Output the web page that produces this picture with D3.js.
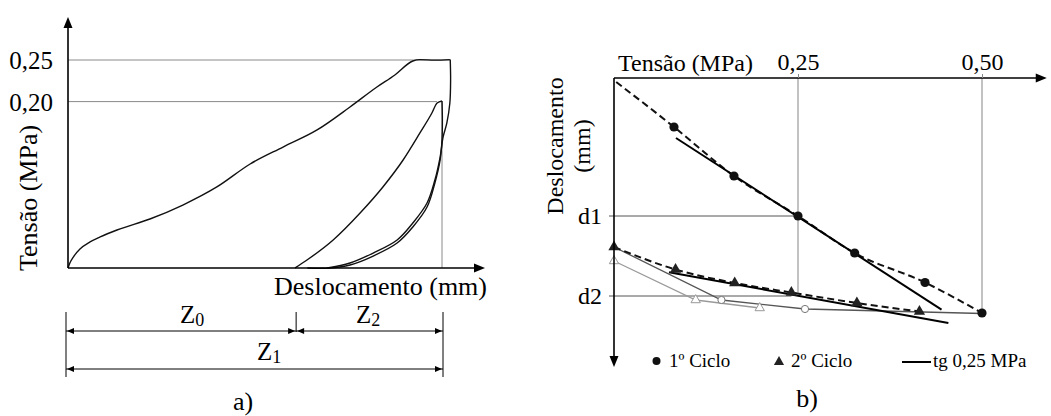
<!DOCTYPE html>
<html>
<head>
<meta charset="utf-8">
<script src="https://cdn.jsdelivr.net/npm/d3@7"></script>
<style>
  body { margin: 0; background: #fff; }
  svg { display: block; }
  text { font-family: "Liberation Serif", "DejaVu Serif", serif; fill: #000; }
</style>
</head>
<body>
<script>
// ---- a) Tensão x Deslocamento (displacement normalised so that Z1 = 1) ----
const loading = [
  [0, 0], [0.005, 0.006], [0.016, 0.0144], [0.032, 0.0228], [0.059, 0.0313],
  [0.086, 0.0373], [0.131, 0.0457], [0.219, 0.0589], [0.307, 0.0757],
  [0.398, 0.0974], [0.487, 0.125], [0.575, 0.1454], [0.666, 0.1659],
  [0.754, 0.1935], [0.826, 0.2175], [0.874, 0.232], [0.922, 0.2488],
  [0.941, 0.2505], [0.981, 0.2498], [1.021, 0.2505]
];
const unloading1 = [
  [1.022, 0.2505], [1.023, 0.226], [1.021, 0.1983], [1.013, 0.1743],
  [1.003, 0.1575], [0.995, 0.1334], [0.981, 0.1058], [0.96, 0.0781],
  [0.922, 0.0541], [0.88, 0.0337], [0.816, 0.018], [0.754, 0.006], [0.693, 0]
];
const reloading = [
  [0.607, 0], [0.639, 0.0096], [0.709, 0.0337], [0.781, 0.0661], [0.842, 0.0974],
  [0.896, 0.1298], [0.941, 0.1623], [0.973, 0.1863], [0.987, 0.1983], [1.0, 0.2007]
];
const unloading2 = [
  [1.0, 0.2007], [1.001, 0.1779], [1.0, 0.1538], [0.995, 0.1298], [0.981, 0.1022],
  [0.96, 0.0733], [0.922, 0.0493], [0.88, 0.03], [0.816, 0.0144], [0.754, 0.0036],
  [0.70, 0], [0.64, 0]
];
const stressTicksA = [0.20, 0.25];
const Z0 = 0.61, Z1 = 1.0;

// ---- b) Deslocamento x Tensão ----
const cycle1 = [   // 1º ciclo, filled circles [MPa, displacement]
  [0.0815, 0.49], [0.163, 0.98], [0.25, 1.38], [0.327, 1.75], [0.4226, 2.045], [0.50, 2.35]
];
const cycle1Start = [0.003, 0.04];
const cycle2 = [   // 2º ciclo, filled triangles
  [0, 1.69], [0.0836, 1.915], [0.164, 2.05], [0.241, 2.145], [0.330, 2.25], [0.415, 2.335]
];
const openCircles = [[0, 1.69], [0.146, 2.22], [0.2595, 2.31], [0.50, 2.355]];
const openTriangles = [[0, 1.83], [0.111, 2.22], [0.198, 2.30]];
const tangent1 = [[0.0842, 0.60], [0.445, 2.316]];
const tangent2 = [[0.0747, 1.943], [0.4543, 2.45]];
const stressTicksB = [0.25, 0.50];
const d1 = 1.38, d2 = 2.18;

const fmt = v => d3.format(".2f")(v).replace(".", ",");

const svg = d3.select("body").append("svg")
    .attr("width", 1051)
    .attr("height", 416);

function arrowHead(g, x, y, dir, len = 11, half = 4.5) {
  // dir: "up", "down", "left", "right"; (x, y) is the tip
  let pts;
  if (dir === "up") pts = [[x, y], [x - half, y + len], [x + half, y + len]];
  if (dir === "down") pts = [[x, y], [x - half, y - len], [x + half, y - len]];
  if (dir === "right") pts = [[x, y], [x - len, y - half], [x - len, y + half]];
  if (dir === "left") pts = [[x, y], [x + len, y - half], [x + len, y + half]];
  g.append("path").attr("d", "M" + pts.join("L") + "Z").attr("fill", "#000");
}

// ===================== a) =====================
const xa = d3.scaleLinear().domain([0, 1]).range([68, 442]);
const ya = d3.scaleLinear().domain([0, 0.25]).range([268, 60]);
const ga = svg.append("g");

// reference lines
ga.append("line").attr("x1", xa(0)).attr("x2", xa(1.022)).attr("y1", ya(0.25)).attr("y2", ya(0.25))
    .attr("stroke", "#8a8a8a").attr("stroke-width", 1);
ga.append("line").attr("x1", xa(0)).attr("x2", xa(0.987)).attr("y1", ya(0.20)).attr("y2", ya(0.20))
    .attr("stroke", "#8a8a8a").attr("stroke-width", 1);
ga.append("line").attr("x1", xa(Z1)).attr("x2", xa(Z1)).attr("y1", ya(0.20)).attr("y2", ya(0))
    .attr("stroke", "#8a8a8a").attr("stroke-width", 1);

const lineX = d3.line().x(d => xa(d[0])).y(d => ya(d[1])).curve(d3.curveMonotoneX);
const lineU = d3.line().x(d => xa(d[0])).y(d => ya(d[1])).curve(d3.curveCatmullRom.alpha(0.5));
const curves = [
  { pts: loading, gen: lineX }, { pts: unloading1, gen: lineU },
  { pts: reloading, gen: lineX }, { pts: unloading2, gen: lineU }
];
ga.selectAll("path.curve")
  .data(curves)
  .join("path")
    .attr("class", "curve")
    .attr("d", d => d.gen(d.pts))
    .attr("fill", "none")
    .attr("stroke", "#111")
    .attr("stroke-width", 1.4);

// axes
ga.append("line").attr("x1", xa(0)).attr("x2", xa(0)).attr("y1", ya(0)).attr("y2", ya(0.298))
    .attr("stroke", "#000").attr("stroke-width", 1.6);
arrowHead(ga, xa(0), ya(0.3017), "up");
ga.append("line").attr("x1", xa(0)).attr("x2", xa(1.105)).attr("y1", ya(0)).attr("y2", ya(0))
    .attr("stroke", "#000").attr("stroke-width", 1.6);
arrowHead(ga, xa(1.115), ya(0), "right");

const axA = ga.append("g")
    .attr("transform", `translate(${xa(0)},0)`)
    .call(d3.axisLeft(ya).tickValues(stressTicksA).tickSize(0).tickPadding(15).tickFormat(fmt));
axA.select(".domain").remove();
axA.attr("font-family", null).attr("font-size", null);
axA.selectAll("text").attr("font-size", 25).attr("dy", "0.34em");

ga.append("text")
    .attr("transform", `translate(37,198) rotate(-90)`)
    .attr("text-anchor", "middle")
    .attr("font-size", 26)
    .text("Tensão (MPa)");
ga.append("text")
    .attr("x", 487).attr("y", 295)
    .attr("text-anchor", "end")
    .attr("font-size", 26)
    .text("Deslocamento (mm)");

// dimension lines Z0, Z2, Z1
const dim = ga.append("g").attr("stroke", "#000").attr("stroke-width", 1);
dim.append("line").attr("x1", xa(0) - 2).attr("x2", xa(0) - 2).attr("y1", 312).attr("y2", 377);
dim.append("line").attr("x1", xa(Z1) + 1).attr("x2", xa(Z1) + 1).attr("y1", 312).attr("y2", 377);
dim.append("line").attr("x1", xa(Z0)).attr("x2", xa(Z0)).attr("y1", 312).attr("y2", 332);
dim.append("line").attr("x1", xa(0) - 2).attr("x2", xa(Z1) + 1).attr("y1", 331).attr("y2", 331);
dim.append("line").attr("x1", xa(0) - 2).attr("x2", xa(Z1) + 1).attr("y1", 369).attr("y2", 369);
arrowHead(ga, xa(0) - 1, 331, "left", 7, 3);
arrowHead(ga, xa(Z0) - 1, 331, "right", 7, 3);
arrowHead(ga, xa(Z0) + 1, 331, "left", 7, 3);
arrowHead(ga, xa(Z1), 331, "right", 7, 3);
arrowHead(ga, xa(0) - 1, 369, "left", 7, 3);
arrowHead(ga, xa(Z1), 369, "right", 7, 3);

function zLabel(g, x, y, sub) {
  const t = g.append("text").attr("x", x).attr("y", y).attr("font-size", 25).text("Z");
  t.append("tspan").attr("font-size", 18).attr("dy", 3).text(sub);
}
zLabel(ga, 180, 323, "0");
zLabel(ga, 356, 323, "2");
zLabel(ga, 257, 360, "1");

ga.append("text").attr("x", 243).attr("y", 410).attr("text-anchor", "middle")
    .attr("font-size", 26).text("a)");

// ===================== b) =====================
const xb = d3.scaleLinear().domain([0, 0.5]).range([614, 982]);
const yb = d3.scaleLinear().domain([0, 1]).range([78, 178]);
const gb = svg.append("g");

// grid / reference lines
const gridB = gb.append("g").attr("stroke", "#9a9a9a").attr("stroke-width", 1.2);
gridB.append("line").attr("x1", xb(0.25)).attr("x2", xb(0.25)).attr("y1", yb(0)).attr("y2", yb(2.145));
gridB.append("line").attr("x1", xb(0.5)).attr("x2", xb(0.5)).attr("y1", yb(0)).attr("y2", yb(2.35));
gb.append("line").attr("x1", xb(0) - 5).attr("x2", xb(0.25)).attr("y1", yb(d1)).attr("y2", yb(d1))
    .attr("stroke", "#555").attr("stroke-width", 1);
gb.append("line").attr("x1", xb(0) - 5).attr("x2", xb(0.241)).attr("y1", yb(d2)).attr("y2", yb(d2))
    .attr("stroke", "#555").attr("stroke-width", 1);

const lineB = d3.line().x(d => xb(d[0])).y(d => yb(d[1]));

// thin gray series (open markers)
gb.append("path").attr("d", lineB(openTriangles)).attr("fill", "none")
    .attr("stroke", "#9a9a9a").attr("stroke-width", 1.3);
gb.append("path").attr("d", lineB(openCircles)).attr("fill", "none")
    .attr("stroke", "#555").attr("stroke-width", 1.3);

// dashed cycle curves
gb.append("path").attr("d", lineB.curve(d3.curveMonotoneX)([cycle1Start, ...cycle1]))
    .attr("fill", "none").attr("stroke", "#111").attr("stroke-width", 2)
    .attr("stroke-dasharray", "7,4");
gb.append("path").attr("d", lineB.curve(d3.curveMonotoneX)(cycle2))
    .attr("fill", "none").attr("stroke", "#111").attr("stroke-width", 2)
    .attr("stroke-dasharray", "7,4");

// tangents
gb.selectAll("path.tg")
  .data([tangent1, tangent2])
  .join("path")
    .attr("class", "tg")
    .attr("d", lineB.curve(d3.curveLinear))
    .attr("fill", "none")
    .attr("stroke", "#000")
    .attr("stroke-width", 2);

// markers
gb.selectAll("path.otri")
  .data(openTriangles)
  .join("path")
    .attr("class", "otri")
    .attr("transform", d => `translate(${xb(d[0])},${yb(d[1])})`)
    .attr("d", d3.symbol(d3.symbolTriangle, 38))
    .attr("fill", "#fff").attr("stroke", "#999").attr("stroke-width", 1);
gb.selectAll("circle.ocirc")
  .data(openCircles.slice(1, 3))
  .join("circle")
    .attr("class", "ocirc")
    .attr("cx", d => xb(d[0])).attr("cy", d => yb(d[1])).attr("r", 3.6)
    .attr("fill", "#fff").attr("stroke", "#777").attr("stroke-width", 1);
gb.selectAll("path.ftri")
  .data(cycle2)
  .join("path")
    .attr("class", "ftri")
    .attr("transform", d => `translate(${xb(d[0])},${yb(d[1])})`)
    .attr("d", d3.symbol(d3.symbolTriangle, 55))
    .attr("fill", "#222");
gb.selectAll("circle.fcirc")
  .data(cycle1)
  .join("circle")
    .attr("class", "fcirc")
    .attr("cx", d => xb(d[0])).attr("cy", d => yb(d[1])).attr("r", 4.6)
    .attr("fill", "#111");

// axes
gb.append("line").attr("x1", xb(0)).attr("x2", xb(0.575)).attr("y1", yb(0)).attr("y2", yb(0))
    .attr("stroke", "#000").attr("stroke-width", 1.6);
arrowHead(gb, xb(0.588), yb(0), "right");
gb.append("line").attr("x1", xb(0)).attr("x2", xb(0)).attr("y1", yb(0)).attr("y2", yb(2.8))
    .attr("stroke", "#000").attr("stroke-width", 1.6);
arrowHead(gb, xb(0), yb(2.89), "down");

const axB = gb.append("g")
    .attr("transform", `translate(0,${yb(0)})`)
    .call(d3.axisTop(xb).tickValues(stressTicksB).tickSizeInner(4).tickSizeOuter(0).tickPadding(4).tickFormat(fmt));
axB.select(".domain").remove();
axB.attr("font-family", null).attr("font-size", null);
axB.selectAll("line").attr("stroke", "#888");
axB.selectAll("text").attr("font-size", 24);

gb.append("text").attr("x", 618).attr("y", 71).attr("font-size", 24).text("Tensão (MPa)");
gb.append("text").attr("transform", "translate(563,146) rotate(-90)").attr("text-anchor", "middle")
    .attr("font-size", 24).text("Deslocamento");
gb.append("text").attr("transform", "translate(590,146) rotate(-90)").attr("text-anchor", "middle")
    .attr("font-size", 24).text("(mm)");
gb.append("text").attr("x", 602).attr("y", yb(d1) + 8).attr("text-anchor", "end")
    .attr("font-size", 24).text("d1");
gb.append("text").attr("x", 602).attr("y", yb(d2) + 8).attr("text-anchor", "end")
    .attr("font-size", 24).text("d2");

// legend
const leg = gb.append("g").attr("font-size", 19);
leg.append("circle").attr("cx", 656.5).attr("cy", 361).attr("r", 4).attr("fill", "#111");
leg.append("text").attr("x", 669).attr("y", 367).text("1º Ciclo");
leg.append("path").attr("transform", "translate(779,362)")
    .attr("d", d3.symbol(d3.symbolTriangle, 45)).attr("fill", "#222");
leg.append("text").attr("x", 791).attr("y", 367).text("2º Ciclo");
leg.append("line").attr("x1", 902).attr("x2", 931).attr("y1", 362).attr("y2", 362)
    .attr("stroke", "#000").attr("stroke-width", 2);
leg.append("text").attr("x", 933).attr("y", 367).text("tg 0,25 MPa");

gb.append("text").attr("x", 807).attr("y", 407).attr("text-anchor", "middle")
    .attr("font-size", 26).text("b)");
</script>
</body>
</html>
